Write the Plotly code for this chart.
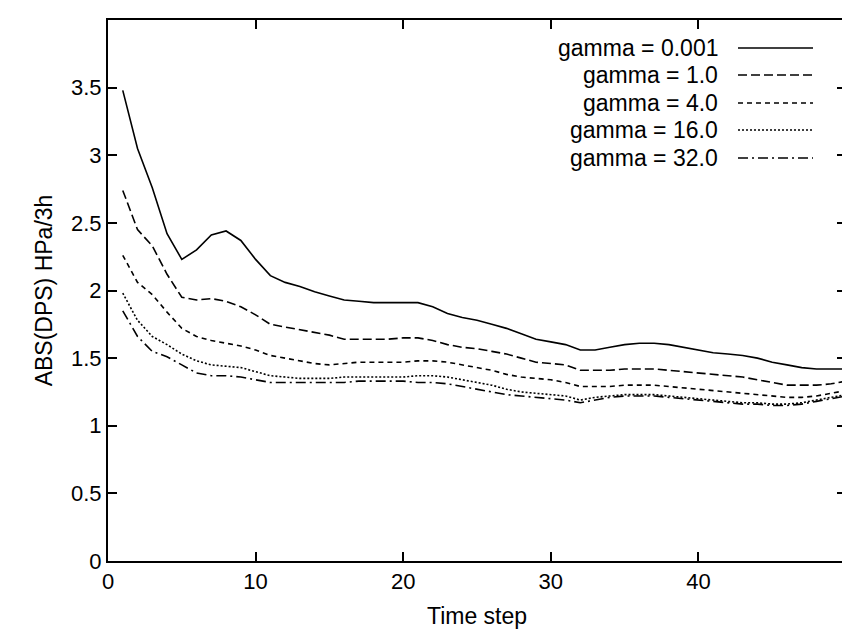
import plotly.graph_objects as go

steps = list(range(1, 51))
g0001 = [3.48, 3.05, 2.76, 2.42, 2.23, 2.30, 2.41, 2.44, 2.37, 2.23, 2.11, 2.06, 2.03, 1.99, 1.96, 1.93, 1.92, 1.91, 1.91, 1.91,
         1.91, 1.88, 1.83, 1.80, 1.78, 1.75, 1.72, 1.68, 1.64, 1.62, 1.60, 1.56, 1.56, 1.58, 1.60, 1.61, 1.61, 1.60, 1.58, 1.56,
         1.54, 1.53, 1.52, 1.50, 1.47, 1.45, 1.43, 1.42, 1.42, 1.42]
g1 = [2.74, 2.45, 2.33, 2.12, 1.95, 1.93, 1.94, 1.92, 1.88, 1.82, 1.75, 1.73, 1.71, 1.69, 1.67, 1.64, 1.64, 1.64, 1.64, 1.65,
      1.65, 1.63, 1.60, 1.58, 1.57, 1.55, 1.53, 1.50, 1.47, 1.46, 1.45, 1.41, 1.41, 1.41, 1.42, 1.42, 1.42, 1.41, 1.40, 1.39,
      1.38, 1.37, 1.36, 1.34, 1.32, 1.30, 1.30, 1.30, 1.31, 1.33]
g4 = [2.26, 2.06, 1.97, 1.84, 1.72, 1.66, 1.63, 1.61, 1.59, 1.56, 1.52, 1.50, 1.48, 1.46, 1.45, 1.46, 1.47, 1.47, 1.47, 1.47,
      1.48, 1.48, 1.47, 1.45, 1.43, 1.41, 1.38, 1.36, 1.35, 1.34, 1.32, 1.29, 1.29, 1.29, 1.30, 1.30, 1.30, 1.29, 1.28, 1.27,
      1.26, 1.25, 1.24, 1.23, 1.22, 1.21, 1.21, 1.22, 1.24, 1.26]
g16 = [1.98, 1.78, 1.66, 1.60, 1.53, 1.48, 1.45, 1.44, 1.43, 1.40, 1.37, 1.36, 1.35, 1.35, 1.35, 1.36, 1.36, 1.36, 1.36, 1.36,
       1.37, 1.37, 1.36, 1.34, 1.32, 1.30, 1.27, 1.25, 1.24, 1.23, 1.22, 1.19, 1.21, 1.22, 1.23, 1.23, 1.23, 1.22, 1.21, 1.20,
       1.19, 1.18, 1.17, 1.17, 1.16, 1.16, 1.17, 1.19, 1.21, 1.23]
g32 = [1.85, 1.66, 1.55, 1.51, 1.45, 1.39, 1.37, 1.37, 1.36, 1.34, 1.32, 1.32, 1.32, 1.32, 1.32, 1.32, 1.33, 1.33, 1.33, 1.33,
       1.32, 1.32, 1.31, 1.29, 1.27, 1.25, 1.23, 1.22, 1.21, 1.20, 1.19, 1.17, 1.19, 1.21, 1.22, 1.22, 1.22, 1.21, 1.20, 1.19,
       1.18, 1.17, 1.16, 1.16, 1.15, 1.15, 1.16, 1.18, 1.20, 1.22]

names = ["gamma = 0.001", "gamma = 1.0", "gamma = 4.0", "gamma = 16.0", "gamma = 32.0"]
series = [g0001, g1, g4, g16, g32]
dashes = ["solid", "9px,4px", "5px,4px", "2px,2px", "10px,4px,2px,4px"]

fig = go.Figure()
for name, ys, d in zip(names, series, dashes):
    fig.add_trace(go.Scatter(x=steps, y=ys, mode="lines", name=name,
                             line=dict(color="black", width=1.6, dash=d)))

# legend drawn by hand: text right-aligned, sample line on the right
legend_py = [40, 67, 95, 122, 150]
for name, d, py in zip(names, dashes, legend_py):
    yp = (553 - py) / 541
    fig.add_annotation(x=(712 - 100) / 738, y=yp, xref="paper", yref="paper", text=name,
                       showarrow=False, xanchor="right", yanchor="middle", font=dict(size=23))
    fig.add_shape(type="line", xref="paper", yref="paper", x0=(730 - 100) / 738, x1=(805 - 100) / 738,
                  y0=yp, y1=yp, line=dict(color="black", width=1.6, dash=d))

axis = dict(showgrid=False, zeroline=False, showline=True, mirror="ticks", linecolor="black", linewidth=2,
            ticks="inside", ticklen=9, tickwidth=1.5, tickcolor="black", tickfont=dict(size=22),
            automargin=False)
fig.update_layout(
    width=850, height=633, showlegend=False,
    plot_bgcolor="white", paper_bgcolor="white",
    font=dict(family="Liberation Sans, Arial", color="black", size=22),
    margin=dict(l=100, r=12, t=12, b=80),
    xaxis=dict(axis, range=[0, 50], dtick=10, title=dict(text="Time step", font=dict(size=23), standoff=14)),
    yaxis=dict(axis, range=[0, 4], dtick=0.5, title=dict(text="ABS(DPS) HPa/3h", font=dict(size=23), standoff=12)),
)
fig.write_html("out.html")
